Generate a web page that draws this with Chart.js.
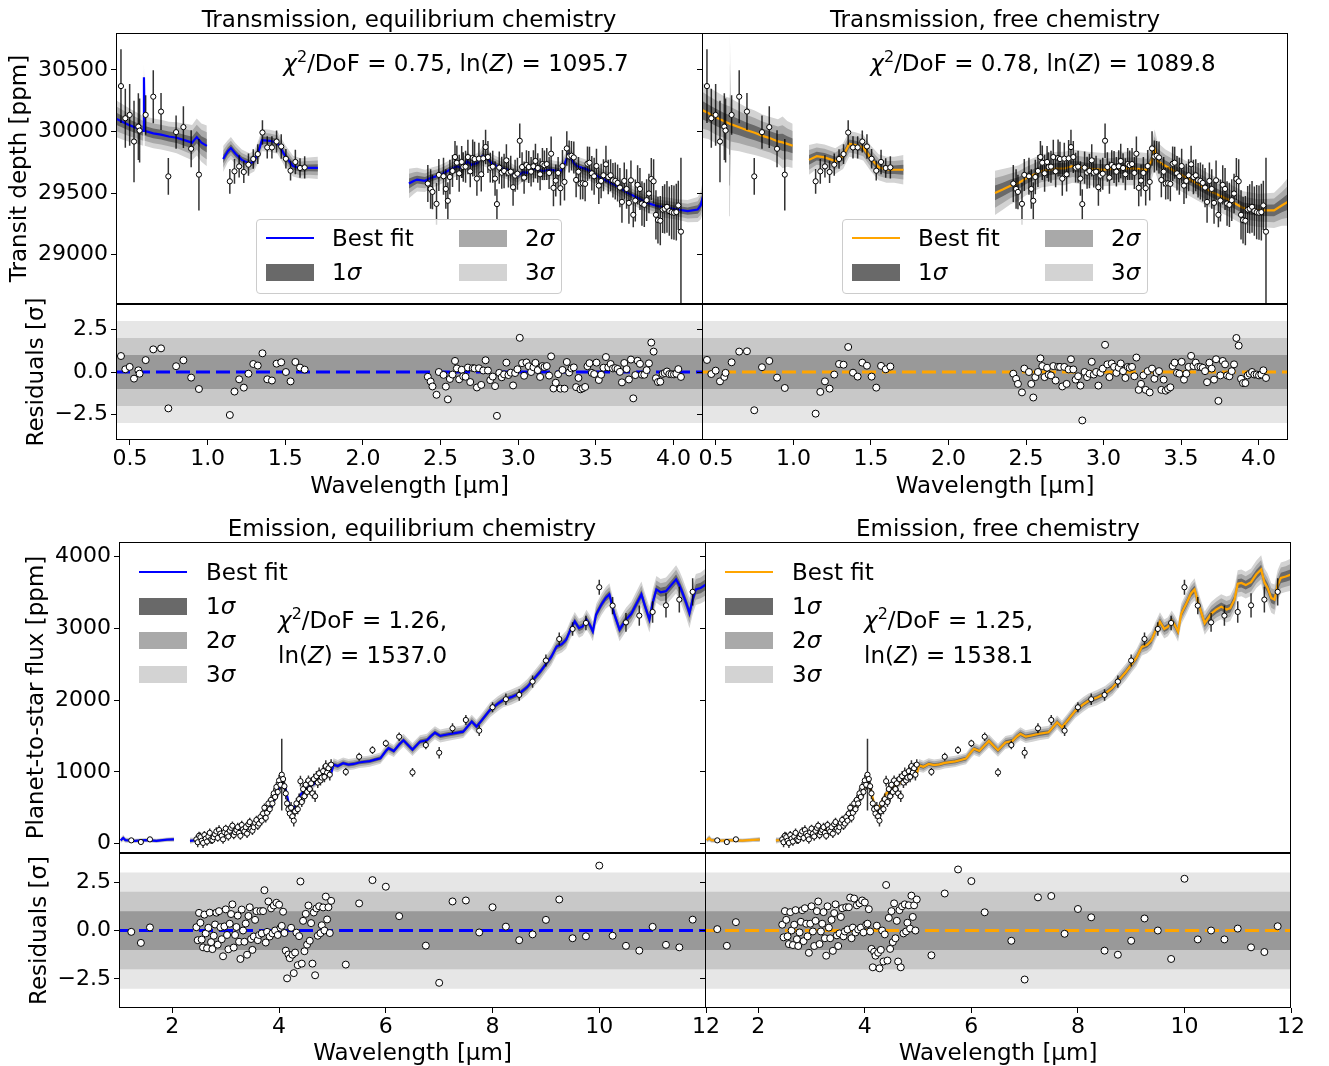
<!DOCTYPE html>
<html>
<head>
<meta charset="utf-8">
<script src="https://cdn.jsdelivr.net/npm/chart.js@4.4.0/dist/chart.umd.min.js"></script>
<style>
  body { margin: 0; background: #fff; }
  #wrap { position: relative; width: 1329px; height: 1066px; overflow: hidden;
          font-family: 'DejaVu Sans', sans-serif; color: #000; font-size: 23px; }
  #wrap canvas { position: absolute; left: 0; top: 0; }
  .c { position: absolute; transform: translate(-50%, -50%); line-height: 1; white-space: nowrap; }
  .l { position: absolute; transform: translateY(-50%); line-height: 1; white-space: nowrap; }
  sup { font-size: 16px; line-height: 0; vertical-align: 9px; }
  .leg { position: absolute; }
  .framed { border: 1px solid #cccccc; border-radius: 4px; background: rgba(255,255,255,0.8); box-sizing: border-box; }
  .ln { position: absolute; width: 48px; height: 2px; }
  .pt { position: absolute; width: 48px; height: 17px; }
</style>
</head>
<body>
<div id="wrap"></div>
<script>
// ---- transmission spectrum (same observations in both columns) ----
const tWave = [0.442,0.470,0.498,0.526,0.554,0.562,0.601,0.650,0.700,0.747,0.797,0.844,0.894,0.944,
  1.143,1.173,1.203,1.233,1.263,1.294,1.323,1.353,1.384,1.414,1.444,1.474,1.504,1.534,1.565,1.595,1.625,
  2.418,2.436,2.448,2.474,2.489,2.519,2.534,2.547,2.560,2.577,2.593,2.605,2.620,2.636,2.646,2.661,2.676,2.691,2.707,2.719,
  2.734,2.747,2.762,2.775,2.790,2.805,2.820,2.836,2.851,2.863,2.878,2.894,2.909,2.924,2.937,2.952,2.967,2.980,2.995,3.010,
  3.025,3.038,3.053,3.068,3.083,3.098,3.111,3.126,3.141,3.156,3.169,3.184,3.199,3.212,3.227,3.242,3.257,3.272,3.285,3.298,
  3.313,3.328,3.343,3.358,3.373,3.388,3.401,3.416,3.431,3.446,3.459,3.474,3.489,3.504,3.519,3.534,3.549,3.565,3.580,3.595,
  3.610,3.625,3.640,3.655,3.668,3.683,3.698,3.713,3.726,3.741,3.754,3.769,3.784,3.797,3.812,3.827,3.842,3.857,3.872,3.887,
  3.900,3.915,3.930,3.943,3.958,3.973,3.988,4.003,4.018,4.031,4.048];
const tDepth = [30369,30108,30135,29919,30040,30008,30135,30283,30162,29636,29995,30036,29860,29650,
  29596,29677,29717,29672,29731,29777,29817,29992,29871,29871,29919,29879,29779,29682,29753,29704,29709,
  29578,29534,29510,29413,29648,29637,29534,29438,29631,29680,29793,29747,29661,29753,29712,29715,29793,29677,29785,29777,
  29618,29780,29653,29782,29874,29793,29707,29715,29618,29411,29707,29666,29680,29766,29666,29674,29548,29642,29658,29925,
  29712,29626,29728,29712,29674,29718,29761,29704,29653,29736,29726,29736,29664,29820,29543,29602,29664,29540,29720,29591,
  29863,29798,29804,29790,29607,29674,29578,29580,29575,29739,29747,29661,29637,29720,29561,29599,29645,29734,29631,29645,
  29604,29599,29583,29545,29429,29599,29534,29421,29604,29324,29440,29567,29534,29416,29405,29443,29497,29615,29596,29324,
  29281,29276,29367,29373,29389,29354,29346,29341,29346,29400,29187];
const tErr = [300,240,250,330,270,260,160,215,150,150,135,170,150,290,
  100,100,90,90,90,80,80,100,90,90,90,100,80,80,100,80,90,
  150,160,140,170,130,150,160,150,140,130,130,140,150,130,120,130,140,130,150,140,
  140,130,140,150,140,130,120,130,140,120,130,130,140,130,120,130,150,130,130,140,
  120,130,120,130,120,130,140,120,130,130,120,130,130,140,150,130,130,140,130,150,
  140,130,120,130,140,120,130,130,140,140,130,140,150,140,150,140,130,150,140,130,
  140,150,150,160,170,150,160,170,160,100,170,160,170,180,180,170,160,170,180,200,
  190,200,190,200,210,200,220,220,230,200,600];
const tResEq = [0.94,0.16,0.30,-0.39,0.10,-0.10,0.70,1.33,1.39,-2.14,0.34,0.69,-0.33,-1.00,
  -2.53,-1.15,-0.43,-0.92,-0.10,0.47,0.38,1.10,-0.43,-0.50,0.49,0.57,0.00,-0.55,0.59,0.26,0.14,
  -0.28,-0.56,-0.85,-1.34,0.00,-0.17,-0.86,-1.61,-0.41,-0.15,0.65,0.21,-0.43,0.13,-0.25,-0.28,0.26,-0.59,0.23,0.21,
  -0.91,0.22,-0.76,0.09,0.69,0.09,-0.48,-0.27,-0.83,-2.58,-0.05,-0.31,-0.14,0.55,-0.18,-0.04,-0.79,-0.06,0.16,2.01,
  0.52,-0.22,0.56,0.34,0.00,0.28,0.54,0.11,-0.29,0.35,0.29,0.35,-0.21,0.92,-0.97,-0.63,-0.13,-0.98,0.12,-0.98,
  0.59,-0.03,0.21,0.27,-0.89,-0.35,-1.02,-0.96,-0.88,0.34,0.52,-0.05,-0.12,0.55,-0.47,-0.16,0.25,0.88,0.27,0.47,
  0.21,0.23,0.18,0.01,-0.61,0.53,0.17,-0.44,0.73,-1.55,-0.18,0.66,0.48,-0.16,-0.16,0.11,0.51,1.73,1.20,-0.37,
  -0.59,-0.57,-0.11,-0.06,0.03,-0.12,-0.13,-0.14,-0.10,0.17,-0.29];
const tResFree = [0.71,-0.12,0.08,-0.55,-0.29,-0.05,0.57,1.20,1.22,-2.25,0.28,0.65,-0.33,-0.94,
  -2.45,-1.17,-0.55,-0.98,-0.15,0.47,0.43,1.47,-0.04,-0.27,0.55,0.37,-0.27,-0.92,0.36,0.16,0.32,
  -0.10,-0.40,-0.70,-1.20,0.20,0.00,-0.70,-1.50,-0.30,0.00,0.80,0.35,-0.30,0.25,-0.15,-0.20,0.35,-0.50,0.30,0.30,
  -0.85,0.30,-0.70,0.15,0.75,0.15,-0.45,-0.25,-0.80,-2.85,0.00,-0.30,-0.10,0.60,-0.15,0.00,-0.80,-0.05,0.20,1.60,
  0.45,-0.30,0.50,0.30,-0.05,0.25,0.50,0.05,-0.35,0.30,0.25,0.30,-0.25,0.85,-1.05,-0.70,-0.20,-1.05,0.05,-1.20,
  0.20,-0.40,-0.05,0.05,-1.05,-0.45,-1.10,-1.00,-0.90,0.35,0.55,-0.05,-0.10,0.60,-0.45,-0.10,0.30,0.95,0.35,0.55,
  0.30,0.30,0.25,0.05,-0.60,0.55,0.20,-0.45,0.75,-1.70,-0.20,0.65,0.45,-0.20,-0.25,0.05,0.45,2.00,1.55,-0.40,
  -0.65,-0.65,-0.20,-0.10,0.00,-0.15,-0.15,-0.20,-0.15,0.10,-0.35];

// best-fit models, null = gap between instrument segments; S = 1 sigma half width
const tEqModW = [0.41,0.45,0.50,0.55,0.585,0.59,0.595,0.65,0.70,0.75,0.80,0.85,0.90,0.93,0.96,0.995, null,
  1.10,1.13,1.15,1.18,1.22,1.27,1.30,1.33,1.35,1.40,1.45,1.50,1.55,1.60,1.65,1.71, null,
  2.296,2.33,2.349,2.40,2.436,2.48,2.522,2.56,2.607,2.64,2.672,2.70,2.737,2.77,2.801,2.83,2.866,2.90,2.930,2.96,
  2.995,3.03,3.059,3.09,3.124,3.16,3.210,3.25,3.274,3.30,3.322,3.339,3.36,3.382,3.446,3.511,3.575,3.640,3.704,3.769,
  3.833,3.898,3.962,4.027,4.091,4.156,4.175,4.19];
const tEqModF = [30105,30080,30050,30025,30005,30440,30005,29985,29975,29960,29950,29930,29910,29955,29910,29884, null,
  29777,29840,29866,29820,29770,29740,29760,29850,29930,29925,29910,29800,29720,29700,29705,29705, null,
  29578,29600,29610,29600,29623,29640,29664,29690,29718,29700,29758,29730,29745,29800,29785,29740,29718,29700,29691,29660,
  29637,29670,29664,29700,29691,29680,29691,29680,29677,29740,29812,29785,29740,29718,29691,29637,29596,29556,29502,29462,
  29421,29394,29381,29367,29354,29367,29400,29475];
const tEqModS = [50,48,45,42,40,40,40,40,40,40,42,45,48,50,52,55, null,
  35,30,30,28,28,28,28,30,30,30,30,30,28,28,28,30, null,
  40,35,32,30,28,27,26,26,26,26,26,26,26,26,26,26,26,26,26,26,
  26,26,26,26,26,26,26,26,26,26,28,28,26,26,26,26,26,26,26,26,
  27,27,28,28,30,34,38,45];
const tFrModW = [0.41,0.45,0.50,0.55,0.585,0.59,0.595,0.65,0.70,0.75,0.80,0.85,0.90,0.93,0.96,0.995, null,
  1.10,1.15,1.20,1.27,1.32,1.36,1.40,1.45,1.50,1.55,1.60,1.65,1.71, null,
  2.30,2.35,2.40,2.45,2.50,2.55,2.60,2.65,2.70,2.75,2.80,2.90,3.00,3.10,3.20,3.28,3.31,3.33,3.35,3.40,
  3.50,3.60,3.70,3.80,3.90,4.00,4.10,4.15,4.19];
const tFrModF = [30175,30150,30115,30085,30065,30062,30060,30035,30010,29990,29965,29945,29920,29912,29900,29884, null,
  29770,29800,29790,29760,29800,29900,29890,29870,29780,29710,29690,29690,29690, null,
  29502,29530,29560,29580,29620,29650,29680,29690,29700,29700,29720,29700,29690,29700,29700,29690,29760,29852,29760,29720,
  29650,29580,29510,29450,29380,29360,29360,29400,29430];
const tFrModS = [75,70,70,68,70,250,70,65,62,60,58,58,60,70,62,60, null,
  40,35,35,35,35,35,35,35,35,35,35,35,40, null,
  60,55,50,48,46,45,45,45,45,45,45,45,45,45,45,45,50,55,50,45,
  45,45,45,45,45,45,48,55,65];

// ---- emission spectrum ----
const eWave = [1.23,1.41,1.58,
  2.450,2.475,2.500,2.525,2.550,2.575,2.600,2.625,2.650,2.675,2.700,2.725,
  2.750,2.775,2.800,2.825,2.850,2.875,2.900,2.925,2.950,2.975,3.000,3.025,
  3.050,3.075,3.100,3.125,3.150,3.175,3.200,3.225,3.250,3.275,3.300,3.325,
  3.350,3.375,3.400,3.425,3.450,3.475,3.500,3.525,3.550,3.575,3.600,3.625,
  3.650,3.675,3.700,3.725,3.750,3.775,3.800,3.825,3.850,3.875,3.900,3.925,
  3.950,3.975,4.000,4.025,4.050,4.075,4.100,4.125,4.150,4.175,4.200,4.225,
  4.250,4.275,4.300,4.325,4.350,4.375,4.400,4.425,4.450,4.475,4.500,4.525,
  4.550,4.575,4.600,4.625,4.650,4.675,4.700,4.725,4.750,4.775,4.800,4.825,
  4.850,4.875,4.900,4.925,4.950,4.975,
  5.25,5.50,5.75,6.00,6.25,6.50,6.75,7.00,7.25,7.50,7.75,8.00,8.25,8.50,8.75,9.00,9.25,9.50,9.75,
  10.00,10.25,10.50,10.75,11.00,11.25,11.50,11.75];
const eFlux = [46,23,60,
  60,20,110,90,40,10,120,70,30,100,150,60,
  50,90,130,170,80,190,140,110,60,160,210,140,
  100,180,220,250,120,160,190,230,150,110,260,200,
  170,230,140,270,300,210,180,230,290,330,250,280,
  370,320,420,500,360,430,560,480,610,560,700,650,
  790,720,880,820,960,900,800,700,560,480,420,500,
  380,320,450,560,480,620,870,580,760,660,820,720,
  880,760,840,700,900,660,940,850,980,880,920,1010,
  930,1080,990,1050,960,1100,
  1000,1210,1303,1397,1489,992,1373,1266,1606,1722,1573,1899,2011,2071,2257,2550,2849,2989,3073,
  3570,3314,3081,3175,3226,3318,3398,3506];
const eErr = [30,30,30,
  60,70,55,65,60,70,55,65,60,70,60,65,
  55,60,65,60,55,65,60,55,60,70,55,60,
  60,55,65,60,60,70,55,60,65,55,60,65,
  60,55,60,65,60,55,60,65,55,60,60,65,
  60,65,70,60,65,70,60,65,70,65,70,60,
  70,65,75,70,500,70,75,80,70,75,70,80,
  75,80,70,75,70,80,75,70,80,75,70,75,
  70,75,80,70,75,80,70,75,80,70,75,80,
  75,80,70,75,80,75,
  55,55,55,50,60,60,60,80,70,70,75,70,80,80,85,85,90,95,100,
  105,120,130,140,150,170,180,190];
const eResEq = [-0.07,-0.64,0.16,
  0.17,-0.50,0.91,0.40,-0.47,-0.87,0.82,-0.15,-0.92,0.14,0.92,-0.60,
  -0.96,-0.27,0.31,0.92,-0.73,1.00,0.17,-0.45,-1.33,0.21,1.09,-0.23,
  -0.97,0.35,0.85,1.35,-0.88,-0.23,0.18,0.77,-0.58,-1.47,1.08,0.00,
  -0.58,0.36,-1.25,0.75,1.20,-0.44,-1.00,-0.31,0.55,1.00,-0.50,-0.23,
  1.00,-0.15,1.00,2.08,-0.62,-0.07,1.50,-0.31,1.14,-0.15,1.29,0.00,
  1.43,-0.23,1.33,0.14,0.24,0.97,-0.13,-1.04,-2.47,-1.24,-1.43,0.14,
  -1.25,-2.20,-1.14,-0.11,-1.79,-0.29,2.53,-1.71,0.50,-1.07,0.86,-0.73,
  1.29,-0.53,0.38,-1.71,0.93,-2.31,1.14,-0.27,1.25,-0.14,0.27,1.19,
  0.00,1.75,0.57,1.20,-0.13,1.53,
  -1.76,1.40,2.60,2.26,0.74,-6.00,-0.78,-2.70,1.50,1.55,-0.10,1.20,0.20,-0.50,-0.20,0.55,1.60,-0.40,-0.30,
  3.35,-0.27,-0.79,-1.04,0.19,-0.74,-0.87,0.56];
const eResFree = [0.07,-0.79,0.43,
  0.30,-0.35,1.00,0.55,-0.30,-0.70,0.95,0.00,-0.75,0.30,1.05,-0.45,
  -0.80,-0.10,0.45,1.05,-0.55,1.15,0.35,-0.30,-1.15,0.35,1.25,-0.05,
  -0.80,0.50,1.00,1.50,-0.70,-0.05,0.35,0.95,-0.40,-1.30,1.25,0.15,
  -0.40,0.55,-1.05,0.90,1.35,-0.25,-0.80,-0.15,0.70,1.15,-0.30,-0.05,
  1.20,0.05,1.20,1.70,-0.40,0.15,1.65,-0.10,1.30,0.05,1.40,0.15,
  1.55,-0.10,1.45,0.30,0.35,1.10,-0.05,-0.95,-1.90,-1.10,-1.30,0.25,
  -1.15,-1.95,-1.00,0.00,-1.60,-0.20,2.35,-1.55,0.65,-0.95,1.00,-0.60,
  1.40,-0.40,0.50,-1.60,1.05,-1.90,1.25,-0.15,1.35,-0.05,0.40,1.30,
  0.10,1.80,0.70,1.30,0.00,1.60,
  -1.28,1.91,3.15,2.55,0.94,-6.00,-0.53,-2.53,1.71,1.78,-0.17,1.11,0.68,-1.04,-1.25,-0.53,0.62,0.00,-1.47,
  2.67,-0.46,0.00,-0.46,0.10,-0.87,-1.11,0.22];

const eModW = [1.03,1.08,1.12,1.3,1.5,1.7,1.9,2.03, null,
  2.33,2.40,2.45,2.5,2.6,2.7,2.8,2.9,3.0,3.1,3.2,3.3,3.4,3.5,3.6,3.65,3.7,3.75,3.8,3.85,
  3.9,3.95,4.0,4.05,4.08,4.11,4.14,4.17,4.2,4.24,4.28,4.32,4.36,4.4,4.45,4.5,4.55,4.6,4.65,4.7,
  4.75,4.8,4.85,4.9,4.95,4.98,
  5.02,5.1,5.2,5.3,5.4,5.5,5.6,5.7,5.8,5.9,6.0,6.05,6.15,6.25,6.33,6.42,6.5,6.64,6.77,6.85,
  6.92,7.02,7.15,7.27,7.45,7.61,7.7,7.8,7.95,8.1,8.2,8.35,8.51,8.65,8.76,8.9,9.01,9.1,9.2,9.3,
  9.38,9.46,9.54,9.62,9.69,9.76,9.82,9.88,9.94,10.04,10.12,10.19,10.28,10.38,10.5,10.6,10.69,10.79,10.86,10.94,
  11.0,11.07,11.15,11.25,11.35,11.44,11.5,11.56,11.63,11.69,11.75,11.81,11.9,12.0];
const eEqModF = [46,80,50,40,50,40,55,60, null,
  40,45,50,60,75,95,110,130,150,165,180,195,215,240,280,310,350,400,470,530,
  610,690,780,840,830,800,700,600,520,470,500,560,620,680,720,760,790,810,830,860,
  880,900,930,950,970,990,
  1100,1080,1120,1100,1110,1130,1140,1150,1170,1190,1290,1330,1290,1380,1440,1370,1310,1420,1440,1500,
  1545,1500,1520,1536,1560,1700,1630,1720,1860,1950,2000,2040,2095,2180,2280,2400,2510,2600,2745,2780,
  2840,2980,3095,3000,3025,3120,3050,2955,3190,3330,3420,3470,3200,2980,3120,3200,3330,3470,3300,3120,
  3350,3540,3500,3515,3600,3680,3600,3490,3350,3210,3400,3540,3560,3610];
const eFrModF = [50,75,48,42,48,42,52,58, null,
  45,50,55,62,78,98,112,132,150,162,178,195,218,245,285,320,360,420,490,560,
  640,720,800,830,800,770,660,570,500,480,520,590,640,700,730,770,800,815,840,870,
  890,905,930,945,965,985,
  1090,1070,1110,1095,1105,1125,1135,1145,1165,1185,1280,1320,1290,1370,1430,1360,1300,1410,1430,1490,
  1530,1490,1510,1530,1550,1690,1620,1710,1850,1940,1990,2030,2090,2170,2270,2390,2500,2590,2740,2770,
  2830,2970,3090,2990,3020,3110,3040,2950,3200,3350,3480,3540,3300,3070,3200,3260,3300,3260,3280,3400,
  3620,3630,3600,3640,3750,3817,3640,3560,3420,3398,3600,3700,3720,3747];
const eModS = [12,15,12,10,10,10,10,12, null,
  15,12,10,10,10,10,10,10,10,10,10,10,10,10,12,12,14,15,16,18,
  20,20,22,24,24,24,22,20,18,18,18,18,18,18,18,18,18,18,18,18,
  18,18,18,18,20,22,
  30,28,26,26,26,26,26,26,26,26,28,28,28,30,30,30,30,30,30,30,
  30,30,30,30,30,32,32,32,34,34,34,35,35,36,36,38,38,40,40,40,
  42,42,44,44,44,46,46,46,48,50,50,52,52,54,55,56,58,60,60,60,
  62,62,62,64,64,66,66,68,68,70,70,72,72,75];

// tick positions
const tWaveTicks = [0.5, 1.0, 1.5, 2.0, 2.5, 3.0, 3.5, 4.0];
const tDepthTicks = [29000, 29500, 30000, 30500];
const eWaveTicks = [2, 4, 6, 8, 10, 12];
const eFluxTicks = [0, 1000, 2000, 3000, 4000];
const resTicks = [-2.5, 0, 2.5];

const W = 1329, H = 1066;
const BLUE = '#0000ff', ORANGE = '#ffa500';
const SIG = ['#696969', '#a9a9a9', '#d3d3d3'];
const RES = ['#999999', '#c8c8c8', '#e6e6e6'];
const CLEAR = 'rgba(0,0,0,0)';

Chart.defaults.font.family = "'DejaVu Sans', sans-serif";
Chart.defaults.font.size = 22;
Chart.defaults.color = '#000';

function segments(w, f, s) {
  const out = [];
  let cur = null;
  w.forEach((x, i) => {
    if (x === null) { cur = null; return; }
    if (!cur) { cur = []; out.push(cur); }
    cur.push([x, f[i], s[i]]);
  });
  return out;
}

// 3/2/1 sigma envelopes plus the best-fit line
function modelSets(w, f, s, color) {
  const sets = [];
  segments(w, f, s).forEach(seg => {
    [3, 2, 1].forEach(k => {
      sets.push({ type: 'line', data: seg.map(p => ({ x: p[0], y: p[1] + k * p[2] })), fill: '+1',
        backgroundColor: SIG[k - 1], borderColor: CLEAR, borderWidth: 0, pointRadius: 0, order: 20 + k });
      sets.push({ type: 'line', data: seg.map(p => ({ x: p[0], y: p[1] - k * p[2] })), fill: false,
        borderColor: CLEAR, borderWidth: 0, pointRadius: 0, order: 20 + k });
    });
    sets.push({ type: 'line', data: seg.map(p => ({ x: p[0], y: p[1] })), fill: false,
      borderColor: color, borderWidth: 2.2, pointRadius: 0, order: 10 });
  });
  return sets;
}

function dataSets(w, f, e) {
  const bars = [];
  w.forEach((x, i) => bars.push({ x, y: f[i] - e[i] }, { x, y: f[i] + e[i] }, { x, y: null }));
  return [
    { type: 'line', data: bars, borderColor: 'rgba(0,0,0,0.8)', borderWidth: 1.5, pointRadius: 0,
      spanGaps: false, fill: false, order: 5 },
    { type: 'scatter', data: w.map((x, i) => ({ x, y: f[i] })), pointRadius: 2.6,
      pointBackgroundColor: '#fff', pointBorderColor: '#000', pointBorderWidth: 1, order: 1 }
  ];
}

function residualSets(x0, x1, w, r, color) {
  const sets = [];
  [3, 2, 1].forEach(k => {
    sets.push({ type: 'line', data: [{ x: x0, y: k }, { x: x1, y: k }], fill: '+1', backgroundColor: RES[k - 1],
      borderColor: CLEAR, borderWidth: 0, pointRadius: 0, order: 20 + k });
    sets.push({ type: 'line', data: [{ x: x0, y: -k }, { x: x1, y: -k }], fill: false,
      borderColor: CLEAR, borderWidth: 0, pointRadius: 0, order: 20 + k });
  });
  sets.push({ type: 'line', data: [{ x: x0, y: 0 }, { x: x1, y: 0 }], fill: false, borderColor: color,
    borderWidth: 3, borderDash: [14, 6], pointRadius: 0, order: 10 });
  sets.push({ type: 'scatter', data: w.map((x, i) => ({ x, y: r[i] })), pointRadius: 3.5,
    pointBackgroundColor: '#fff', pointBorderColor: '#000', pointBorderWidth: 1, order: 1 });
  return sets;
}

const frame = {
  id: 'frame',
  afterDraw(chart) {
    const a = chart.chartArea, ctx = chart.ctx;
    ctx.save();
    ctx.strokeStyle = '#000';
    ctx.lineWidth = 1;
    ctx.strokeRect(Math.round(a.left) + 0.5, Math.round(a.top) + 0.5,
      Math.round(a.right - a.left) - 1, Math.round(a.bottom - a.top) - 1);
    ctx.restore();
  }
};

const fmt1 = v => v.toFixed(1).replace('-', '\u2212');
const fmt0 = v => String(v);
const wrap = document.getElementById('wrap');

function panel(cfg) {
  const cv = document.createElement('canvas');
  cv.width = W; cv.height = H;
  wrap.appendChild(cv);
  const xh = cfg.xTitle ? cfg.xh : 0;
  const tickGrid = { display: true, drawOnChartArea: false, drawTicks: true, tickLength: 5, color: '#000' };
  new Chart(cv, {
    type: 'scatter',
    data: { datasets: cfg.sets },
    options: {
      responsive: false, animation: false, events: [],
      layout: { autoPadding: false,
        padding: { left: cfg.padLeft, top: cfg.box[1], right: W - cfg.box[2], bottom: H - cfg.box[3] - xh } },
      plugins: { legend: { display: false }, tooltip: { enabled: false } },
      scales: {
        x: { type: 'linear', min: cfg.x[0], max: cfg.x[1], display: !!cfg.xTitle,
          afterBuildTicks: s => { s.ticks = cfg.xt.map(v => ({ value: v })); },
          afterFit: s => { s.height = xh; },
          grid: tickGrid, border: { display: false },
          ticks: { maxRotation: 0, autoSkip: false, padding: 1, callback: cfg.xf },
          title: { display: !!cfg.xTitle, text: cfg.xTitle, font: { size: 23 }, padding: { top: 0, bottom: -3 } } },
        y: { type: 'linear', min: cfg.y[0], max: cfg.y[1],
          afterBuildTicks: s => { s.ticks = cfg.yt.map(v => ({ value: v })); },
          afterFit: s => { s.width = cfg.box[0] - cfg.padLeft; },
          grid: tickGrid, border: { display: false },
          ticks: { display: !!cfg.yTitle, autoSkip: false, padding: 3, callback: cfg.yf },
          title: { display: !!cfg.yTitle, text: cfg.yTitle, font: { size: 23 }, padding: { top: 4, bottom: 4 } } }
      }
    },
    plugins: [frame]
  });
}

const tX = [0.41, 4.19], eX = [1, 12];
const tY = [28600, 30800], eY = [-130, 4200], rY = [-4, 4];
const WL = 'Wavelength [\u03bcm]';
const tAx = { x: tX, xt: tWaveTicks, xf: fmt1 };
const eAx = { x: eX, xt: eWaveTicks, xf: fmt0 };
const tMain = { y: tY, yt: tDepthTicks, yf: fmt0 };
const eMain = { y: eY, yt: eFluxTicks, yf: fmt0 };
const rAx = { y: rY, yt: resTicks, yf: fmt1 };

// transmission, equilibrium
panel({ ...tAx, ...tMain, box: [116, 33, 703, 304], padLeft: 2, yTitle: 'Transit depth [ppm]',
  sets: modelSets(tEqModW, tEqModF, tEqModS, BLUE).concat(dataSets(tWave, tDepth, tErr)) });
panel({ ...tAx, ...rAx, box: [116, 304, 703, 440], padLeft: 19, yTitle: 'Residuals [\u03c3]',
  xTitle: WL, xh: 58, sets: residualSets(tX[0], tX[1], tWave, tResEq, BLUE) });
// transmission, free
panel({ ...tAx, ...tMain, box: [702, 33, 1288, 304], padLeft: 692,
  sets: modelSets(tFrModW, tFrModF, tFrModS, ORANGE).concat(dataSets(tWave, tDepth, tErr)) });
panel({ ...tAx, ...rAx, box: [702, 304, 1288, 440], padLeft: 692,
  xTitle: WL, xh: 58, sets: residualSets(tX[0], tX[1], tWave, tResFree, ORANGE) });
// emission, equilibrium
panel({ ...eAx, ...eMain, box: [119, 542, 706, 853], padLeft: 19, yTitle: 'Planet-to-star flux [ppm]',
  sets: modelSets(eModW, eEqModF, eModS, BLUE).concat(dataSets(eWave, eFlux, eErr)) });
panel({ ...eAx, ...rAx, box: [119, 853, 706, 1008], padLeft: 22, yTitle: 'Residuals [\u03c3]',
  xTitle: WL, xh: 57, sets: residualSets(eX[0], eX[1], eWave, eResEq, BLUE) });
// emission, free
panel({ ...eAx, ...eMain, box: [705, 542, 1291, 853], padLeft: 695,
  sets: modelSets(eModW, eFrModF, eModS, ORANGE).concat(dataSets(eWave, eFlux, eErr)) });
panel({ ...eAx, ...rAx, box: [705, 853, 1291, 1008], padLeft: 695,
  xTitle: WL, xh: 57, sets: residualSets(eX[0], eX[1], eWave, eResFree, ORANGE) });

// ---- text and legends ----
function addHTML(html) { wrap.insertAdjacentHTML('beforeend', html); }

addHTML('<div class="c" style="left:409px;top:19px">Transmission, equilibrium chemistry</div>');
addHTML('<div class="c" style="left:995px;top:19px">Transmission, free chemistry</div>');
addHTML('<div class="c" style="left:412px;top:528px">Emission, equilibrium chemistry</div>');
addHTML('<div class="c" style="left:998px;top:528px">Emission, free chemistry</div>');

addHTML('<div class="c" style="left:456px;top:63px"><i>\u03c7</i><sup>2</sup>/DoF = 0.75, ln(<i>Z</i>) = 1095.7</div>');
addHTML('<div class="c" style="left:1043px;top:63px"><i>\u03c7</i><sup>2</sup>/DoF = 0.78, ln(<i>Z</i>) = 1089.8</div>');
addHTML('<div class="l" style="left:278px;top:620px"><i>\u03c7</i><sup>2</sup>/DoF = 1.26,</div>');
addHTML('<div class="l" style="left:278px;top:655px">ln(<i>Z</i>) = 1537.0</div>');
addHTML('<div class="l" style="left:864px;top:620px"><i>\u03c7</i><sup>2</sup>/DoF = 1.25,</div>');
addHTML('<div class="l" style="left:864px;top:655px">ln(<i>Z</i>) = 1538.1</div>');

function transLegend(left, color) {
  addHTML(
    '<div class="leg framed" style="left:' + left + 'px;top:219px;width:306px;height:75px">' +
    '<div class="ln" style="left:9px;top:17px;background:' + color + '"></div>' +
    '<div class="l" style="left:75px;top:18px">Best fit</div>' +
    '<div class="pt" style="left:9px;top:44px;background:' + SIG[0] + '"></div>' +
    '<div class="l" style="left:75px;top:52px">1<i>\u03c3</i></div>' +
    '<div class="pt" style="left:202px;top:10px;background:' + SIG[1] + '"></div>' +
    '<div class="l" style="left:268px;top:18px">2<i>\u03c3</i></div>' +
    '<div class="pt" style="left:202px;top:44px;background:' + SIG[2] + '"></div>' +
    '<div class="l" style="left:268px;top:52px">3<i>\u03c3</i></div>' +
    '</div>');
}
transLegend(256, BLUE);
transLegend(842, ORANGE);

function emisLegend(left, color) {
  addHTML(
    '<div class="leg" style="left:' + left + 'px;top:555px;width:120px;height:140px">' +
    '<div class="ln" style="left:0px;top:16px;background:' + color + '"></div>' +
    '<div class="l" style="left:67px;top:17px">Best fit</div>' +
    '<div class="pt" style="left:0px;top:43px;background:' + SIG[0] + '"></div>' +
    '<div class="l" style="left:67px;top:51px">1<i>\u03c3</i></div>' +
    '<div class="pt" style="left:0px;top:77px;background:' + SIG[1] + '"></div>' +
    '<div class="l" style="left:67px;top:85px">2<i>\u03c3</i></div>' +
    '<div class="pt" style="left:0px;top:111px;background:' + SIG[2] + '"></div>' +
    '<div class="l" style="left:67px;top:119px">3<i>\u03c3</i></div>' +
    '</div>');
}
emisLegend(139, BLUE);
emisLegend(725, ORANGE);
</script>
</body>
</html>
